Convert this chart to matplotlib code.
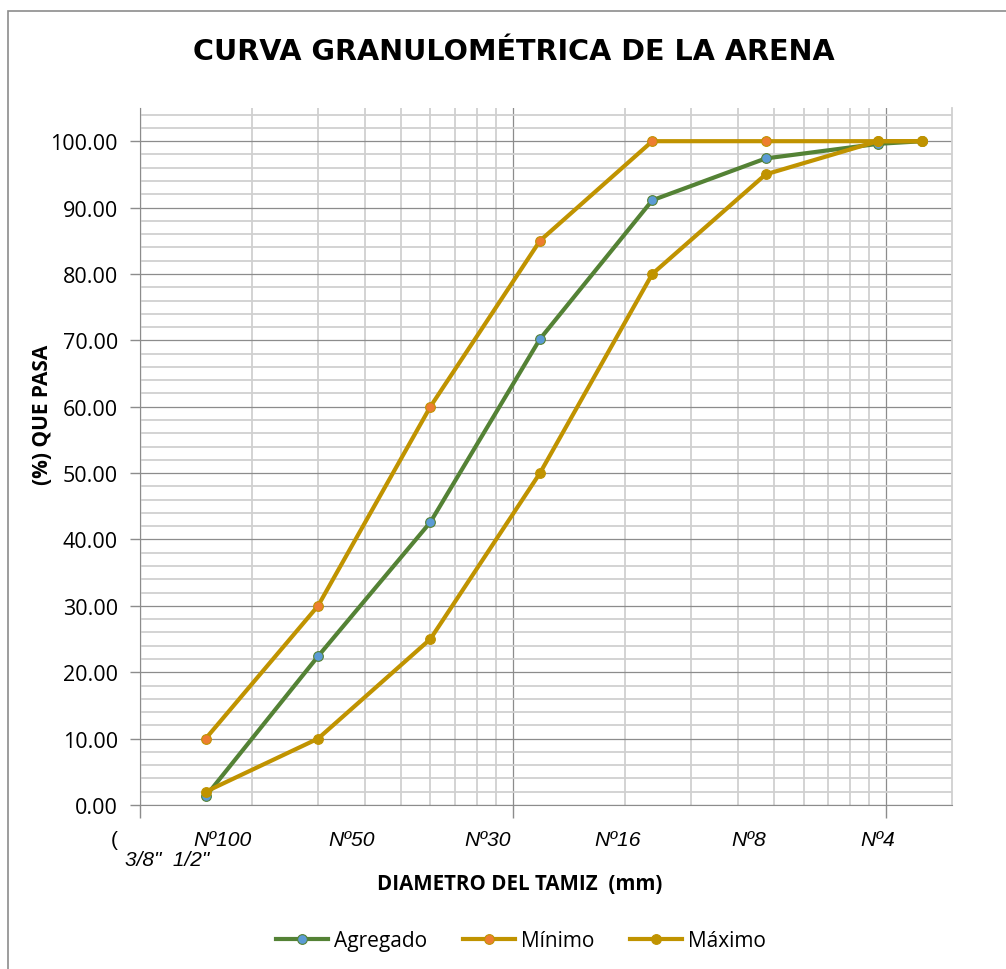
import matplotlib
matplotlib.use("Agg")
import matplotlib.pyplot as plt
from matplotlib.patches import Rectangle
from matplotlib.ticker import FixedLocator, NullFormatter, FuncFormatter
import numpy as np

# ---- data ----
sieve_mm = [0.15, 0.3, 0.6, 1.18, 2.36, 4.75, 9.5, 12.5]
agregado = [1.3, 22.4, 42.6, 70.2, 91.1, 97.4, 99.6, 100.0]
minimo = [10.0, 30.0, 60.0, 85.0, 100.0, 100.0, 100.0, 100.0]
maximo = [2.0, 10.0, 25.0, 50.0, 80.0, 95.0, 100.0, 100.0]
sieve_labels = ["Nº100", "Nº50", "Nº30", "Nº16", "Nº8", "Nº4"]
y_ticks = [0, 10, 20, 30, 40, 50, 60, 70, 80, 90, 100]

W, H = 1006, 970
fig = plt.figure(figsize=(W / 100, H / 100), dpi=100)
fig.patch.set_facecolor("white")

def fx(px):
    return px / W

def fy(py):
    return 1 - py / H

ax = fig.add_axes([fx(140), fy(806), fx(952) - fx(140), fy(109) - fy(806)])
ax.set_xscale("log")
ax.set_xlim(0.1, 15.0)
ax.set_ylim(0, 105)

green = "#548235"
blue = "#5B9BD5"
orange = "#ED7D31"
gold = "#C09300"

ax.plot(sieve_mm, agregado, color=green, lw=3.0, marker="o", ms=7,
        mfc=blue, mec=green, mew=0.8, label="Agregado", zorder=3)
ax.plot(sieve_mm, minimo, color=gold, lw=3.0, marker="o", ms=7,
        mfc=orange, mec=gold, mew=0.8, label="Mínimo", zorder=4)
ax.plot(sieve_mm, maximo, color=gold, lw=3.0, marker="o", ms=7,
        mfc=gold, mec=gold, mew=0.8, label="Máximo", zorder=5)

# grid
ax.xaxis.set_major_locator(FixedLocator([0.1, 1, 10]))
minor_x = [m * d for d in (0.1, 1, 10) for m in range(2, 10) if m * d <= 15]
ax.xaxis.set_minor_locator(FixedLocator(minor_x))
ax.xaxis.set_major_formatter(NullFormatter())
ax.xaxis.set_minor_formatter(NullFormatter())
ax.yaxis.set_major_locator(FixedLocator(y_ticks))
ax.yaxis.set_minor_locator(FixedLocator([v for v in range(2, 106, 2) if v % 10 != 0]))
ax.yaxis.set_major_formatter(FuncFormatter(lambda v, p: f"{v:.2f}"))

ax.grid(which="major", color="#8C8C8C", lw=0.9, zorder=0)
ax.grid(which="minor", color="#D0D0D0", lw=1.3, zorder=0)
ax.set_axisbelow(True)

ax.tick_params(axis="y", which="major", length=7, color="#8C8C8C", width=1,
               labelsize=15.5, pad=9)
ax.tick_params(axis="y", which="minor", length=0)
ax.tick_params(axis="x", which="major", length=9, color="#8C8C8C", width=1)
ax.tick_params(axis="x", which="minor", length=0)
for lab in ax.get_yticklabels():
    lab.set_fontfamily("Open Sans")

ax.spines["top"].set_visible(False)
ax.spines["right"].set_color("#D0D0D0")
ax.spines["right"].set_linewidth(1.3)
ax.spines["left"].set_color("#8C8C8C")
ax.spines["bottom"].set_color("#8C8C8C")

# title
fig.text(fx(514), fy(52), "CURVA GRANULOMÉTRICA DE LA ARENA", ha="center",
         va="center", fontsize=20.6, fontweight="heavy", family="DejaVu Sans")

# axis labels
fig.text(fx(42), fy(415), "(%) QUE PASA", rotation=90, ha="center", va="center",
         fontsize=15, fontweight="bold", family="Open Sans")
fig.text(fx(520), fy(885), "DIAMETRO DEL TAMIZ  (mm)", ha="center", va="center",
         fontsize=14.8, fontweight="bold", family="Open Sans")

# sieve labels (text boxes)
label_px = [222, 352, 488, 618, 749, 878]
for lab, px in zip(sieve_labels, label_px):
    fig.text(fx(px), fy(841), lab, ha="center", va="center", fontsize=15.2,
             style="italic", family="Liberation Sans")
fig.text(fx(114), fy(840), "(", ha="center", va="center", fontsize=15,
         family="Liberation Sans")
fig.text(fx(167), fy(861), '3/8"  1/2"', ha="center", va="center", fontsize=15,
         style="italic", family="Liberation Sans")

# legend
leg = fig.legend(loc="center", bbox_to_anchor=(fx(521), fy(942)), ncol=3,
                 frameon=False, prop={"family": "Open Sans", "size": 15},
                 handlelength=2.5, handletextpad=0.3, columnspacing=1.7)

# outer chart border
fig.add_artist(Rectangle((fx(8), fy(1100)), 2, fy(12) - fy(1100),
                         transform=fig.transFigure, fill=False,
                         edgecolor="#8C8C8C", lw=1.2))

fig.savefig("out.png", dpi=100, facecolor="white")
